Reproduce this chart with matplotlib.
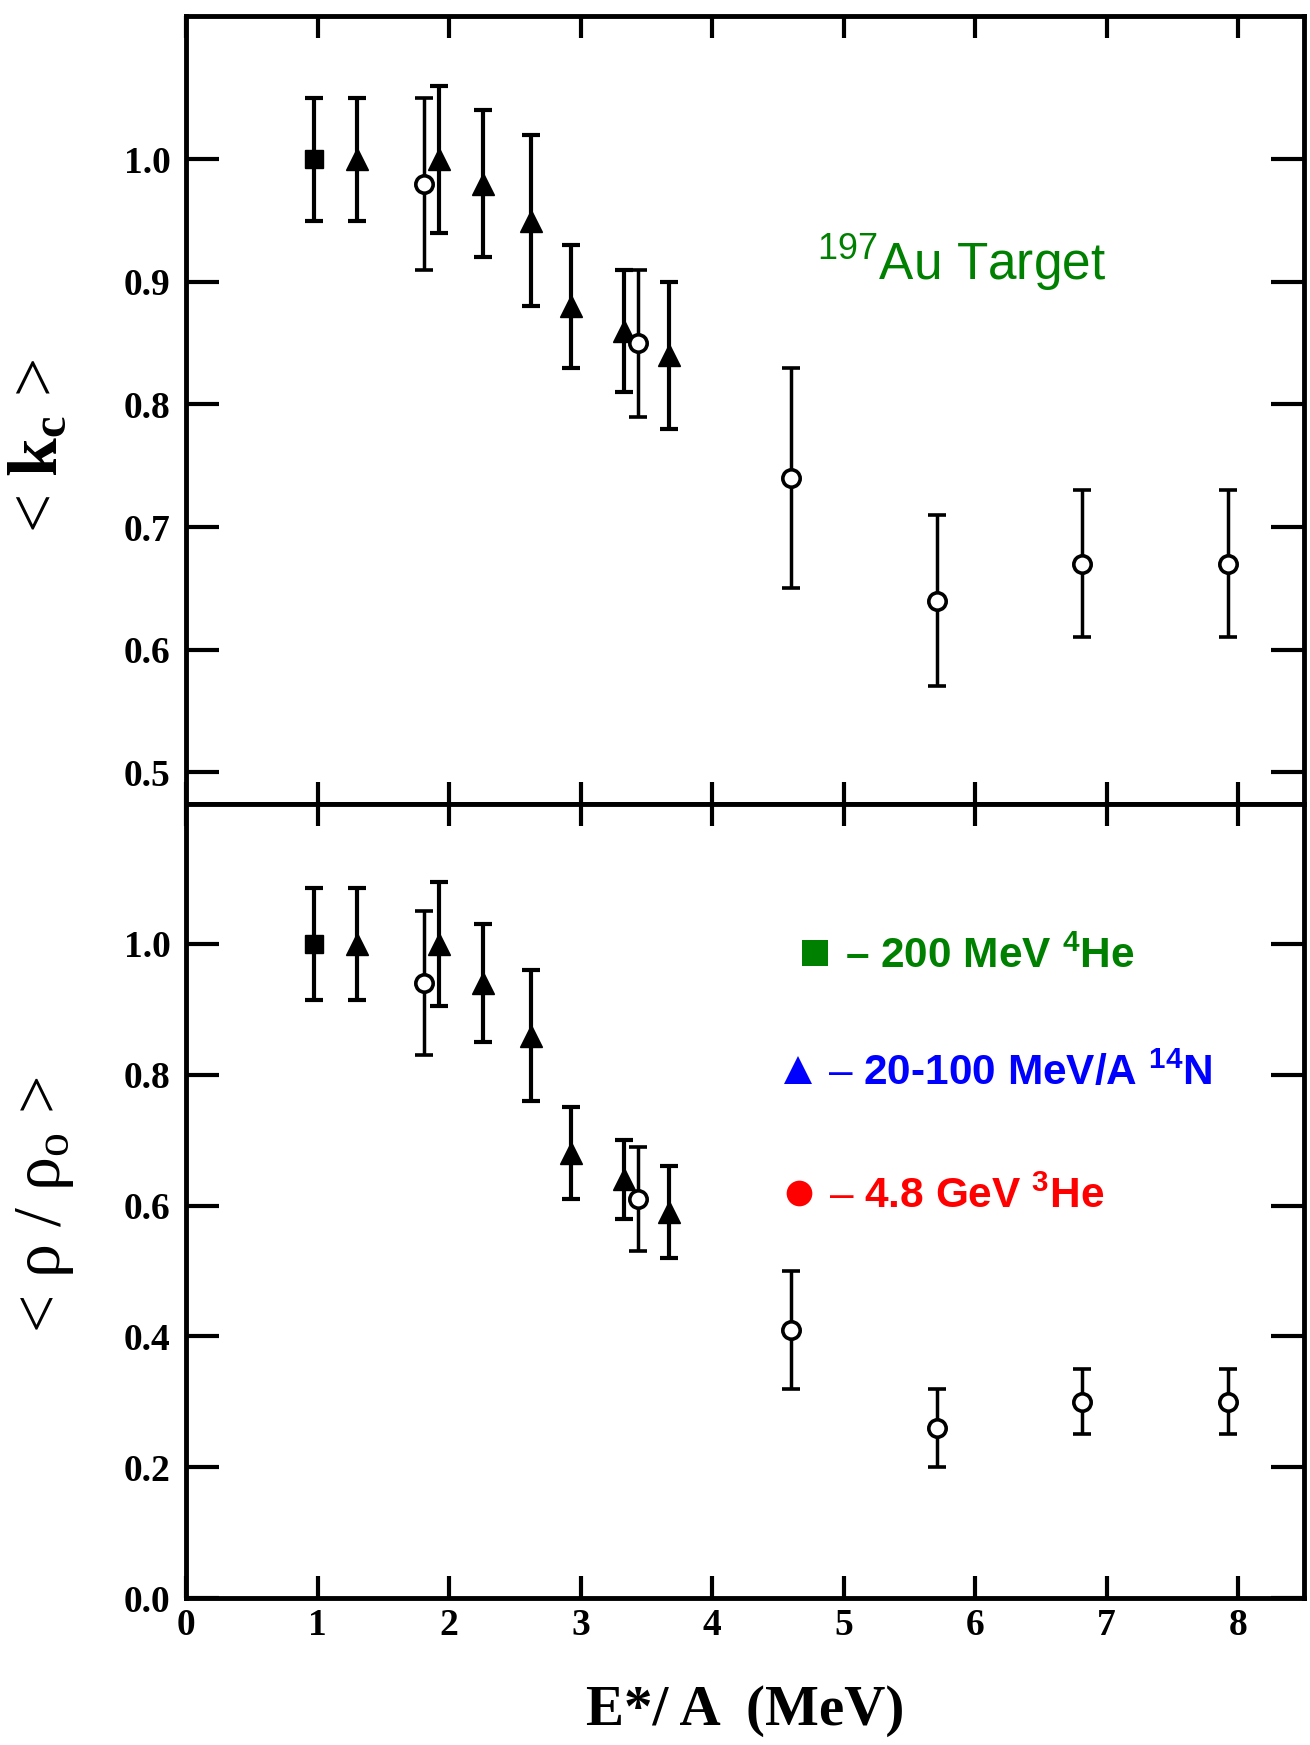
import matplotlib
matplotlib.use("Agg")
import matplotlib.pyplot as plt
from matplotlib.lines import Line2D
from matplotlib.legend import Legend

plt.rcParams["font.family"] = ["Liberation Serif", "DejaVu Serif"]
plt.rcParams["mathtext.fontset"] = "custom"
plt.rcParams["mathtext.rm"] = "Liberation Serif"
plt.rcParams["mathtext.bf"] = "Liberation Serif:bold"
plt.rcParams["mathtext.it"] = "Liberation Serif:italic"
plt.rcParams["mathtext.sf"] = "Liberation Sans"

# Excitation energy per nucleon E*/A (MeV) for each projectile
x_he4 = [0.97]
x_n14 = [1.30, 1.92, 2.26, 2.62, 2.93, 3.33, 3.67]
x_he3 = [1.81, 3.44, 4.60, 5.71, 6.81, 7.92]

# <k_c>
kc_he4 = [1.00]
kc_he4_err = [0.05]
kc_n14 = [1.00, 1.00, 0.98, 0.95, 0.88, 0.86, 0.84]
kc_n14_err = [0.05, 0.06, 0.06, 0.07, 0.05, 0.05, 0.06]
kc_he3 = [0.98, 0.85, 0.74, 0.64, 0.67, 0.67]
kc_he3_err = [0.07, 0.06, 0.09, 0.07, 0.06, 0.06]

# <rho / rho_0>
rho_he4 = [1.00]
rho_he4_err = [0.085]
rho_n14 = [1.00, 1.00, 0.94, 0.86, 0.68, 0.64, 0.59]
rho_n14_err = [0.085, 0.095, 0.09, 0.10, 0.07, 0.06, 0.07]
rho_he3 = [0.94, 0.61, 0.41, 0.26, 0.30, 0.30]
rho_he3_err = [0.11, 0.08, 0.09, 0.06, 0.05, 0.05]

xticks = [0, 1, 2, 3, 4, 5, 6, 7, 8]
kc_ticks = [0.5, 0.6, 0.7, 0.8, 0.9, 1.0]
rho_ticks = [0.0, 0.2, 0.4, 0.6, 0.8, 1.0]

legend_labels = [
    r"– 200 MeV $\mathdefault{^{4}}$He",
    r"$\mathsf{–}$ 20-100 MeV/A $\mathdefault{^{14}}$N",
    r"$\mathsf{–}$ 4.8 GeV $\mathdefault{^{3}}$He",
]
legend_colors = ["#008000", "#0000ff", "#ff0000"]

W, H = 1310, 1745
fig = plt.figure(figsize=(W / 100, H / 100), dpi=100)
fig.patch.set_facecolor("white")


def fx(px):
    return px / W


def fy(py):
    return 1 - py / H


ax1 = fig.add_axes([fx(186), fy(804), fx(1304) - fx(186), fy(16) - fy(804)])
ax2 = fig.add_axes([fx(186), fy(1598), fx(1304) - fx(186), fy(804) - fy(1598)])


def draw_panel(ax, y_sq, e_sq, y_tr, e_tr, y_ci, e_ci):
    ax.errorbar(x_he4, y_sq, yerr=e_sq, fmt="s", ms=13, color="black",
                elinewidth=3.0, capsize=6.5, capthick=3.0, zorder=3)
    ax.errorbar(x_n14, y_tr, yerr=e_tr, fmt="^", ms=16, color="black",
                elinewidth=3.0, capsize=6.5, capthick=3.0, zorder=3)
    ax.errorbar(x_he3, y_ci, yerr=e_ci, fmt="o", ms=12.5, mfc="white",
                mec="black", mew=2.6, color="black", elinewidth=2.5,
                capsize=6.5, capthick=2.5, zorder=4)


draw_panel(ax1, kc_he4, kc_he4_err, kc_n14, kc_n14_err, kc_he3, kc_he3_err)
draw_panel(ax2, rho_he4, rho_he4_err, rho_n14, rho_n14_err, rho_he3, rho_he3_err)

ax1.set_xlim(0, 8.5)
ax2.set_xlim(0, 8.5)
ax1.set_ylim(0.474, 1.117)
ax2.set_ylim(0.0, 1.214)

tick_font = dict(fontsize=27, fontweight="bold", family="Liberation Serif")
for ax in (ax1, ax2):
    for sp in ax.spines.values():
        sp.set_linewidth(3.5)
    ax.set_xticks(xticks)
    ax.tick_params(axis="both", which="major", direction="in", top=True,
                   right=True, width=3, color="black")
    ax.tick_params(axis="y", length=24, pad=11)
    ax.tick_params(axis="x", length=16, pad=7)

ax1.set_yticks(kc_ticks)
ax1.set_yticklabels([f"{v:.1f}" for v in kc_ticks], **tick_font)
ax1.tick_params(labelbottom=False)
ax2.set_yticks(rho_ticks)
ax2.set_yticklabels([f"{v:.1f}" for v in rho_ticks], **tick_font)
ax2.set_xticklabels([str(v) for v in xticks], **tick_font)

# axis titles
fig.text(fx(40), fy(446), r"< $\mathbf{k}_{\mathbf{c}}$ >", rotation=90,
         ha="center", va="center", fontsize=50, family="Liberation Serif")
fig.text(fx(45), fy(1205), r"< ρ / ρ$\mathdefault{_{o}}$ >", rotation=90,
         ha="center", va="center", fontsize=49, family="Liberation Serif")
fig.text(fx(745), fy(1711), "E*/ A  (MeV)", ha="center", va="center",
         fontsize=41, fontweight="bold", family="Liberation Serif")

fig.text(fx(817), fy(280), r"$\mathdefault{^{197}}$Au Target", ha="left",
         va="baseline", fontsize=37, color="#008000", family="Liberation Sans")

# projectile key, one row per beam
handles = [
    Line2D([], [], ls="none", marker="s", ms=18.5, mew=0, color=legend_colors[0]),
    Line2D([], [], ls="none", marker="^", ms=20, mew=0, color=legend_colors[1]),
    Line2D([], [], ls="none", marker="o", ms=18.5, mew=0, color=legend_colors[2]),
]
row_x = [798, 781, 782]
row_base = [968, 1085, 1208]
for h, lab, col, x0, yb in zip(handles, legend_labels, legend_colors, row_x, row_base):
    leg = Legend(ax2, [h], [lab], loc="lower left",
                 bbox_to_anchor=(fx(x0), fy(yb + 9)),
                 bbox_transform=fig.transFigure, frameon=False, borderpad=0,
                 borderaxespad=0, handlelength=0.8, handletextpad=0.3,
                 numpoints=1,
                 prop=dict(family="Liberation Sans", weight="bold", size=30.5),
                 labelcolor=col)
    ax2.add_artist(leg)

fig.savefig("out.png", dpi=100, facecolor="white")
